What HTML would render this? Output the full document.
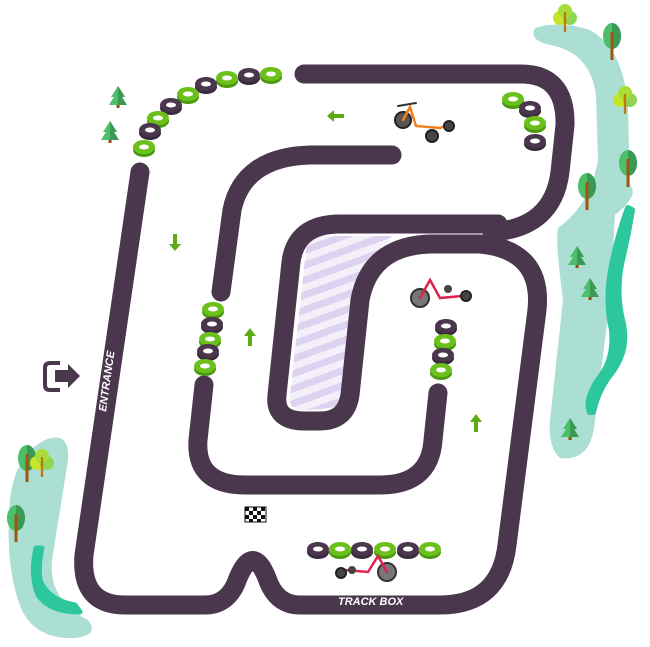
<!DOCTYPE html>
<html><head><meta charset="utf-8"><style>
html,body{margin:0;padding:0;background:#fff;width:650px;height:647px;overflow:hidden}
svg{display:block}
text{font-family:"Liberation Sans",sans-serif;font-weight:bold;font-style:italic;fill:#fff}
</style></head><body>
<svg width="650" height="647" viewBox="0 0 650 647" xmlns="http://www.w3.org/2000/svg">
<defs>
<pattern id="st" width="14" height="14" patternUnits="userSpaceOnUse" patternTransform="rotate(-20)">
<rect width="14" height="14" fill="#f3f0fa"/><rect width="14" height="7" fill="#ddd3f0"/>
</pattern>
<g id="tg"><ellipse cx="0" cy="2" rx="11" ry="7" fill="#4a9a10"/><ellipse cx="0" cy="-1" rx="11" ry="7" fill="#6cc01c"/><ellipse cx="0" cy="-1" rx="5" ry="2.5" fill="#fff"/></g>
<g id="td"><ellipse cx="0" cy="2" rx="11" ry="7" fill="#3a2a3d"/><ellipse cx="0" cy="-1" rx="11" ry="7" fill="#4a364d"/><ellipse cx="0" cy="-1" rx="5" ry="2.5" fill="#fff"/></g>
<g id="tree"><rect x="-1.5" y="0" width="3" height="22" fill="#a0560f"/><ellipse cx="0" cy="-2" rx="9" ry="13" fill="#4cbf6a"/><path d="M0,-15 A9,13 0 0 1 0,11Z" fill="#3a9a55"/><rect x="-1.5" y="-6" width="3" height="28" fill="#a0560f"/></g>
<g id="ltree"><circle cx="-5" cy="0" r="7" fill="#c6e62a"/><circle cx="5" cy="0" r="7" fill="#8ed654"/><circle cx="0" cy="-7" r="7" fill="#a8de3a"/><rect x="-1.2" y="-6" width="2.4" height="20" fill="#c07810"/></g>
<g id="pine"><path d="M0,-14 L7,-3 L4,-3 L9,5 L-9,5 L-4,-3 L-7,-3Z" fill="#4cbf6a"/><path d="M0,-14 L7,-3 L4,-3 L9,5 L0,5Z" fill="#3a9a55"/><rect x="-1.5" y="5" width="3" height="3" fill="#8a4a10"/></g>
</defs>

<!-- green areas -->
<path d="M535,28 Q560,20 590,30 Q625,50 628,110 L630,185 Q640,195 615,215 L610,300 L595,420 Q592,462 560,458 Q548,448 550,420 L563,300 Q555,240 558,228 Q590,205 598,160 L596,95 Q590,52 550,45 Q528,40 535,28Z" fill="#acdfd4"/>
<path d="M628,208 Q618,235 612,265 Q605,300 612,330 Q615,360 598,380 Q585,400 590,412 L593,412 Q598,390 610,375 Q630,350 622,320 Q615,290 622,260 Q628,235 632,210Z" fill="#2cc79c" stroke="#2cc79c" stroke-width="6" stroke-linejoin="round"/>
<path d="M45,440 Q70,430 68,460 L52,560 Q48,600 88,620 Q100,635 75,638 Q30,640 18,600 Q5,560 10,500 Q15,455 45,440Z" fill="#acdfd4"/>
<path d="M42,548 Q38,565 40,580 Q48,600 75,605 L80,612 Q50,612 38,595 Q30,575 36,548Z" fill="#2cc79c" stroke="#2cc79c" stroke-width="5" stroke-linejoin="round"/>

<!-- trees -->
<use href="#ltree" x="565" y="18"/>
<use href="#tree" x="612" y="38"/>
<use href="#ltree" x="625" y="100"/>
<use href="#tree" x="628" y="165"/>
<use href="#tree" x="587" y="188"/>
<use href="#pine" x="577" y="260"/>
<use href="#pine" x="590" y="292"/>
<use href="#pine" x="570" y="432"/>
<use href="#tree" x="27" y="460"/>
<use href="#ltree" x="42" y="463"/>
<use href="#tree" x="16" y="520"/>
<use href="#pine" x="118" y="100"/>
<use href="#pine" x="110" y="135"/>

<!-- hatched infield -->
<path d="M316,236 L392,236 Q372,262 362,300 L345,400 Q340,410 300,410 Q288,408 290,395 L306,250 Q309,236 316,236Z" fill="url(#st)"/>

<!-- track -->
<g fill="none" stroke="#4a364d" stroke-width="19" stroke-linecap="round" stroke-linejoin="round">
<path d="M304,74 L521,74 Q566,74 565,125 L560,172 Q553,228 492,232"/>
<path d="M498,224 L340,224 Q296,224 291,262 L277,395 Q274,421 305,421 L320,421 Q346,421 350,395 L360,300 Q370,246 430,244 L480,244 Q543,250 537,310 L507,545 Q500,605 440,605 L300,605 Q276,605 267,578 Q253,543 238,578 Q229,605 205,605 L125,605 Q80,605 84,555 L140,172"/>
<path d="M392,155 L310,155 Q243,157 232,210 L221,292"/>
<path d="M204,385 L198,440 Q195,485 245,485 L380,485 Q430,485 433,440 L438,393"/>
</g>

<!-- tires -->
<use href="#tg" x="271" y="75"/><use href="#td" x="249" y="76"/><use href="#tg" x="227" y="79"/><use href="#td" x="206" y="85"/><use href="#tg" x="188" y="95"/><use href="#td" x="171" y="106"/><use href="#tg" x="158" y="119"/><use href="#td" x="150" y="131"/><use href="#tg" x="144" y="148"/>
<use href="#tg" x="513" y="100"/><use href="#td" x="530" y="109"/><use href="#tg" x="535" y="124"/><use href="#td" x="535" y="142"/>
<use href="#tg" x="213" y="310"/><use href="#td" x="212" y="325"/><use href="#tg" x="210" y="340"/><use href="#td" x="208" y="352"/><use href="#tg" x="205" y="367"/>
<use href="#td" x="446" y="327"/><use href="#tg" x="445" y="342"/><use href="#td" x="443" y="356"/><use href="#tg" x="441" y="371"/>
<use href="#td" x="318" y="550"/><use href="#tg" x="340" y="550"/><use href="#td" x="362" y="550"/><use href="#tg" x="385" y="550"/><use href="#td" x="408" y="550"/><use href="#tg" x="430" y="550"/>

<!-- arrows -->
<g fill="#5aab14">
<path d="M327,116 L334,110 L334,114 L344,114 L344,118 L334,118 L334,122Z"/>
<path d="M175,251 L169,244 L173,244 L173,234 L177,234 L177,244 L181,244Z"/>
<path d="M250,328 L256,336 L252,336 L252,346 L248,346 L248,336 L244,336Z"/>
<path d="M476,414 L482,422 L478,422 L478,432 L474,432 L474,422 L470,422Z"/>
</g>

<!-- karts -->
<g fill="none" stroke-linecap="round">
<circle cx="403" cy="120" r="8" fill="#555" stroke="#222" stroke-width="2"/>
<path d="M403,120 L410,107 L416,126 L440,128 L448,125" stroke="#f07f1e" stroke-width="2.5"/>
<path d="M398,106 L416,103" stroke="#333" stroke-width="2"/>
<circle cx="432" cy="136" r="6" fill="#444" stroke="#222" stroke-width="2"/>
<circle cx="449" cy="126" r="5" fill="#444" stroke="#222" stroke-width="2"/>
<circle cx="420" cy="298" r="9" fill="#777" stroke="#333" stroke-width="2"/>
<path d="M420,298 L430,280 L440,298 L462,296" stroke="#e0224e" stroke-width="2.5"/>
<circle cx="448" cy="289" r="4" fill="#444"/>
<circle cx="466" cy="296" r="5" fill="#444" stroke="#222" stroke-width="2"/>
<circle cx="387" cy="572" r="9" fill="#777" stroke="#333" stroke-width="2"/>
<path d="M387,572 L378,556 L368,572 L345,570" stroke="#e0224e" stroke-width="2.5"/>
<circle cx="352" cy="570" r="4" fill="#444"/>
<circle cx="341" cy="573" r="5" fill="#444" stroke="#222" stroke-width="2"/>
</g>

<!-- flag -->
<g transform="translate(245,507)">
<rect width="21" height="15" fill="#fff" stroke="#111" stroke-width="1"/>
<path d="M0,0h4v4h-4zM8,0h4v4h-4zM16,0h4v4h-4zM4,4h4v4h-4zM12,4h4v4h-4zM0,8h4v4h-4zM8,8h4v4h-4zM16,8h4v4h-4zM4,12h4v3h-4zM12,12h4v3h-4z" fill="#111"/>
</g>

<!-- entrance icon -->
<path d="M60,363 L50,363 Q45,363 45,368 L45,385 Q45,390 50,390 L60,390" fill="none" stroke="#4a364d" stroke-width="4"/>
<path d="M55,370 L68,370 L68,364 L80,376 L68,388 L68,382 L55,382Z" fill="#4a364d"/>

<text x="0" y="0" font-size="11" transform="translate(106,412) rotate(-82)">ENTRANCE</text>
<text x="338" y="605" font-size="11">TRACK BOX</text>
</svg>
</body></html>
